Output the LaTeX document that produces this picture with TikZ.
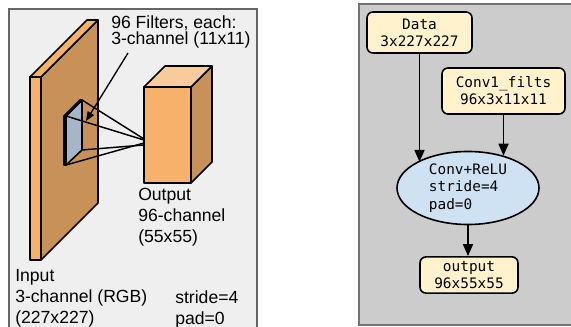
\documentclass[tikz,border=0pt]{standalone}
\usepackage{fontspec}
\setmainfont{Liberation Sans}
\setmonofont{DejaVu Sans Mono}
\usetikzlibrary{arrows.meta,positioning,shapes.geometric}
\definecolor{panelGray}{RGB}{239,239,239}
\definecolor{graphGray}{RGB}{204,204,204}
\definecolor{slabLight}{RGB}{246,178,107}
\definecolor{slabDark}{RGB}{200,145,90}
\definecolor{slabTop}{RGB}{249,203,156}
\definecolor{filtBlue}{RGB}{166,182,200}
\definecolor{blobCream}{RGB}{255,242,204}
\definecolor{opBlue}{RGB}{207,226,243}

\begin{document}
\begin{tikzpicture}[x=0.75pt,y=-0.75pt,
    face/.style={draw=black,line width=1.2pt,line join=round},
    ray/.style={line width=1.1pt},
    lbl/.style={font=\fontsize{13.2}{15.75}\selectfont,align=left,
                inner sep=0pt,anchor=north west},
    blob/.style={draw,line width=1.2pt,rounded corners=4.5pt,fill=blobCream,
                 font=\ttfamily\fontsize{10.8}{12.75}\selectfont,align=center},
    op/.style={ellipse,draw,line width=1.2pt,fill=opBlue,inner sep=0pt,
               font=\ttfamily\fontsize{10.8}{13.1}\selectfont,align=left},
    arr/.style={-{Triangle[length=9pt,width=7.5pt]},line width=1.3pt}]

    \useasboundingbox (0,0) rectangle (571,327);

    % Convolution sketch
    \draw[fill=panelGray,draw=black!60,line width=0.8pt] (9,9) rectangle (257,340);

    % input slab
    \draw[face,fill=slabDark] (41,77) -- (98,20) -- (98,203) -- (41,260) -- cycle;
    \draw[face,fill=slabLight] (30,77) -- (87,20) -- (98,20) -- (41,77) -- cycle;
    \draw[face,fill=slabLight] (30,77) rectangle (41,260);

    % filter
    \draw[face,fill=filtBlue] (66,116) -- (82,100) -- (82,150) -- (66,165) -- cycle;
    \draw[face,fill=filtBlue!60] (64,116) -- (80,100) -- (82,100) -- (66,116) -- cycle;
    \draw[face,fill=filtBlue!60] (64,116) rectangle (66,165);

    % output block
    \draw[face,fill=slabDark] (191,87) -- (212,66) -- (212,162) -- (191,183) -- cycle;
    \draw[face,fill=slabTop] (144,87) -- (165,66) -- (212,66) -- (191,87) -- cycle;
    \draw[face,fill=slabLight] (144,87) rectangle (191,183);

    % receptive field
    \draw[ray] (82,100) -- (144,139);
    \draw[ray] (66,116) -- (144,140);
    \draw[ray] (82,150) -- (144,145);
    \draw[ray] (66,165) -- (144,143);

    \node[lbl,font=\fontsize{13.2}{12.5}\selectfont] (filtlbl) at (111,15)
      {96 Filters, each:\\3-channel (11x11)};
    \node[lbl] (outlbl) at (138,188) {Output\\96-channel\\(55x55)};
    \node[lbl] (inlbl) at (15,269) {Input\\3-channel (RGB)\\(227x227)};
    \node[lbl] (parlbl) at (175,290) {stride=4\\pad=0};

    \coordinate (ptail) at (128,53);
    \coordinate (phead) at (86,121);
    \draw[-{Triangle[length=7pt,width=5.5pt]},line width=1pt] (ptail) -- (phead);

    % Layer graph
    \draw[fill=graphGray,draw=black!55,line width=1pt] (359,4) rectangle (580,325);

    \node[blob,minimum width=78.75pt,minimum height=30.75pt] (data) at (419.5,32.5)
      {Data\\3x227x227};
    \node[blob,minimum width=92.25pt,minimum height=34.5pt] (filts) at (503.5,91)
      {Conv1\_filts\\96x3x11x11};
    \node[op,minimum width=106.5pt,minimum height=54.75pt] (conv) at (468,188)
      {Conv+ReLU\\stride=4\\pad=0};
    \node[blob,minimum width=73.5pt,minimum height=25.5pt] (out) at (469,275)
      {output\\96x55x55};

    \draw[arr] (data.south) -- (data.south |- conv.153);
    \draw[arr] (filts.south) -- (filts.south |- conv.42);
    \draw[arr] (conv.south) -- (conv.south |- out.north);
\end{tikzpicture}
\end{document}
